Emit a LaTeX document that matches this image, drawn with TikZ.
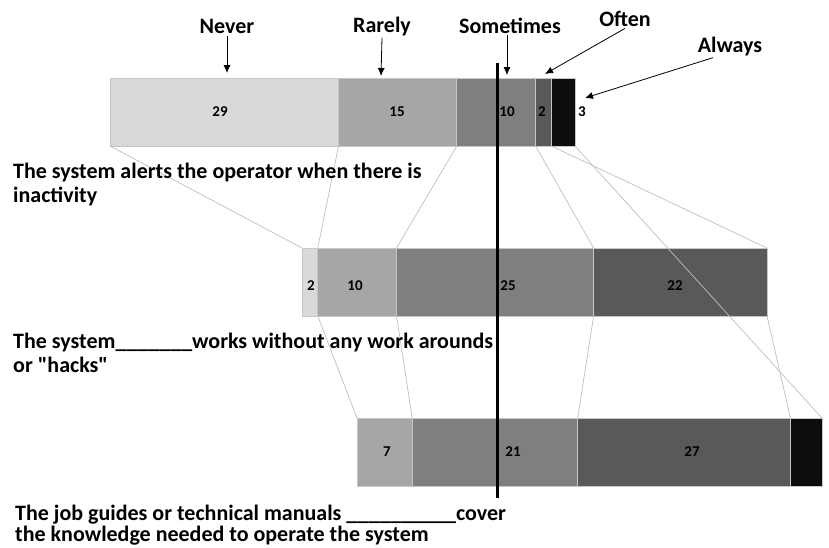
\documentclass[tikz,border=0pt]{standalone}
\usepackage{fontspec}
\setmainfont{Carlito}
\usetikzlibrary{arrows.meta,positioning}

\definecolor{cNever}{HTML}{D9D9D9}
\definecolor{cRarely}{HTML}{A6A6A6}
\definecolor{cSome}{HTML}{7F7F7F}
\definecolor{cOften}{HTML}{595959}
\definecolor{cAlways}{HTML}{0D0D0D}

\tikzset{
  seg/.style={draw=black!22, line width=0.6pt, inner sep=0pt, outer sep=0pt, minimum height=68pt},
  num/.style={font=\fontsize{15}{15}\selectfont\bfseries, inner sep=0pt},
  head/.style={font=\fontsize{22}{22}\selectfont\bfseries, inner sep=2pt, anchor=base},
  question/.style={font=\fontsize{22}{24}\selectfont\bfseries, align=left, inner sep=0pt, anchor=base west},
  link/.style={draw=black!25, line width=0.7pt},
  arr/.style={-{Latex[length=8pt,width=7pt]}, line width=0.8pt}
}

\begin{document}
\begin{tikzpicture}[x=1pt, y=-1pt]
  \useasboundingbox (0,0) rectangle (829,547);

  % first question
  \node[seg, fill=cNever, minimum width=228.55pt, anchor=west] (a1) at (110,112) {};
  \node[seg, fill=cRarely, minimum width=118.22pt, right=0pt of a1] (a2) {};
  \node[seg, fill=cSome, minimum width=78.81pt, right=0pt of a2] (a3) {};
  \node[seg, fill=cOften, minimum width=15.76pt, right=0pt of a3] (a4) {};
  \node[seg, fill=cAlways, minimum width=23.64pt, right=0pt of a4] (a5) {};

  % second question
  \node[seg, fill=cNever, minimum width=15.76pt, anchor=west] (b1) at (302,282) {};
  \node[seg, fill=cRarely, minimum width=78.81pt, right=0pt of b1] (b2) {};
  \node[seg, fill=cSome, minimum width=197.03pt, right=0pt of b2] (b3) {};
  \node[seg, fill=cOften, minimum width=173.38pt, right=0pt of b3] (b4) {};

  % third question
  \node[seg, fill=cRarely, minimum width=55.17pt, anchor=west] (c1) at (357,452) {};
  \node[seg, fill=cSome, minimum width=165.50pt, right=0pt of c1] (c2) {};
  \node[seg, fill=cOften, minimum width=212.79pt, right=0pt of c2] (c3) {};
  \node[seg, fill=cAlways, minimum width=31.52pt, right=0pt of c3] (c4) {};

  \draw[link] (a1.south west) -- (b1.north west);
  \draw[link] (a2.south west) -- (b2.north west);
  \draw[link] (a3.south west) -- (b3.north west);
  \draw[link] (a4.south west) -- (b4.north west);
  \draw[link] (a5.south west) -- (b4.north east);
  \draw[link] (a5.south east) -- (c4.north east);
  \draw[link] (b2.south west) -- (c1.north west);
  \draw[link] (b3.south west) -- (c2.north west);
  \draw[link] (b4.south west) -- (c3.north west);
  \draw[link] (b4.south east) -- (c4.north west);

  \node[num] (n29) at (220,112) {29};
  \node[num] (n15) at (397,112) {15};
  \node[num] (n10) at (507,112) {10};
  \node[num] (n2)  at (542,112) {2};
  \node[num] (n3)  at (582,112) {3};
  \node[num] (m2)  at (311,286) {2};
  \node[num] (m10) at (355,286) {10};
  \node[num] (m25) at (508,286) {25};
  \node[num] (m22) at (675,286) {22};
  \node[num] (k7)  at (387,452) {7};
  \node[num] (k21) at (513,452) {21};
  \node[num] (k27) at (692,452) {27};

  \draw[line width=3pt] (497,63) -- (497,498);

  \node[head] (never) at (227,33.5) {Never};
  \node[head] (rarely) at (382,32) {Rarely};
  \node[head] (sometimes) at (510,33) {Sometimes};
  \node[head] (often) at (625,26) {Often};
  \node[head] (always) at (730,52) {Always};

  \coordinate (pNever) at (227,73);
  \coordinate (pRarely) at (381,76);
  \coordinate (pSome) at (507,75);
  \coordinate (pOften) at (545,74);
  \coordinate (pAlways) at (585,98);

  \draw[arr] (never.south) -- (pNever);
  \draw[arr] (rarely.south) -- (pRarely);
  \draw[arr] ([xshift=-3pt]sometimes.south) -- (pSome);
  \draw[arr] (often.south) -- (pOften);
  \draw[arr] ([xshift=-17pt]always.south) -- (pAlways);

  \node[question] (q1) at (13,202) {The system alerts the operator when there is\\inactivity};
  \node[question] (q2) at (13,372) {The system\_\_\_\_\_\_\_works without any work arounds\\or \textquotedbl hacks\textquotedbl};
  \node[question] (q3) at (15,541) {The job guides or technical manuals \_\_\_\_\_\_\_\_\_\_cover\\[-3pt]the knowledge needed to operate the system};
\end{tikzpicture}
\end{document}
